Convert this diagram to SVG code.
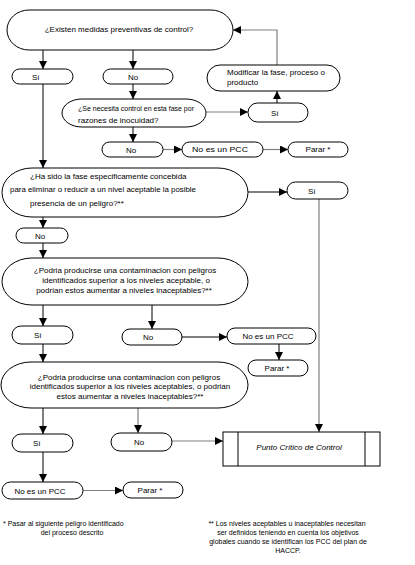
<svg xmlns="http://www.w3.org/2000/svg" width="415" height="565" viewBox="0 0 415 565">
<style>
.b{fill:#fff;stroke:#000;stroke-width:1}
.t{font-family:"Liberation Sans",Arial,sans-serif;font-size:8px;fill:#000}
.m{text-anchor:middle}
.f{font-family:"Liberation Sans",Arial,sans-serif;font-size:7px;fill:#000}
.c{fill:none;stroke:#000;stroke-width:1}
.g{fill:none;stroke:#808080;stroke-width:1.2}
</style>
<defs>
<marker id="a" markerUnits="userSpaceOnUse" markerWidth="9" markerHeight="9" refX="8" refY="4" orient="auto">
<path d="M0,0 L8,4 L0,8 z" fill="#000"/>
</marker>
</defs>
<rect width="415" height="565" fill="#fff"/>
<g id="connectors">
<path class="c" d="M43,49 V69" marker-end="url(#a)"/>
<path class="c" d="M133,49 V69" marker-end="url(#a)"/>
<path class="c" d="M133,84 V99" marker-end="url(#a)"/>
<path class="c" d="M133,127 V142" marker-end="url(#a)"/>
<path class="g" d="M163,149.5 H182" marker-end="url(#a)"/>
<path class="g" d="M263,149.5 H288" marker-end="url(#a)"/>
<path class="g" d="M206,112 H248" marker-end="url(#a)"/>
<path class="c" d="M277,103 V91" marker-end="url(#a)"/>
<path class="g" d="M277,65 V30 H233" marker-end="url(#a)"/>
<path class="c" d="M43,84 V168" marker-end="url(#a)"/>
<path class="c" d="M248,192 H287" marker-end="url(#a)"/>
<path class="g" d="M319,199 V432" marker-end="url(#a)"/>
<path class="c" d="M43,217 V228" marker-end="url(#a)"/>
<path class="c" d="M43,243 V258" marker-end="url(#a)"/>
<path class="c" d="M43,305 V326" marker-end="url(#a)"/>
<path class="c" d="M152,305 V329" marker-end="url(#a)"/>
<path class="c" d="M182,337 H227" marker-end="url(#a)"/>
<path class="c" d="M279,344 V360" marker-end="url(#a)"/>
<path class="c" d="M43,344 V362" marker-end="url(#a)"/>
<path class="c" d="M43,408 V434" marker-end="url(#a)"/>
<path class="g" d="M138,408 V433" marker-end="url(#a)"/>
<path class="g" d="M172,441 H223" marker-end="url(#a)"/>
<path class="c" d="M43,452 V482" marker-end="url(#a)"/>
<path class="g" d="M83,490.5 H123" marker-end="url(#a)"/>
</g>
<g id="q1">
<rect class="b" x="7" y="10" width="226" height="40" rx="22" ry="20"/>
<text class="t m" x="119" y="32">¿Existen medidas preventivas de control?</text>
</g>
<g id="si1">
<rect class="b" x="12" y="69" width="61" height="15" rx="7.5"/>
<text class="t" x="32" y="79.5">Sí</text>
</g>
<g id="no1">
<rect class="b" x="103" y="69" width="70" height="15" rx="7.5"/>
<text class="t m" x="133" y="79.5">No</text>
</g>
<g id="modificar">
<rect class="b" x="207" y="65" width="133" height="26" rx="13"/>
<text class="t" x="227" y="74.5">Modificar la fase, proceso o</text>
<text class="t" x="227" y="84.5">producto</text>
</g>
<g id="q2">
<rect class="b" x="62" y="99" width="144" height="28" rx="20" ry="14"/>
<text class="t" x="78" y="111" textLength="116" lengthAdjust="spacingAndGlyphs">¿Se necesita control en esta fase por</text>
<text class="t" x="78" y="123">razones de inocuidad?</text>
</g>
<g id="si2">
<rect class="b" x="248" y="103" width="60" height="19" rx="9.5"/>
<text class="t" x="271" y="115.5">Sí</text>
</g>
<g id="no2">
<rect class="b" x="102" y="142" width="61" height="15" rx="7.5"/>
<text class="t m" x="131" y="152.5">No</text>
</g>
<g id="nopcc1">
<rect class="b" x="182" y="142" width="81" height="15" rx="7.5"/>
<text class="t m" x="220" y="152" textLength="56" lengthAdjust="spacingAndGlyphs">No es un PCC</text>
</g>
<g id="parar1">
<rect class="b" x="288" y="142" width="60" height="15" rx="7.5"/>
<text class="t m" x="318" y="152">Parar *</text>
</g>
<g id="q3">
<rect class="b" x="2" y="168" width="246" height="49" rx="30" ry="24.5"/>
<text class="t" x="30" y="179">¿Ha sido la fase especificamente concebida</text>
<text class="t" x="10" y="192" textLength="186" lengthAdjust="spacingAndGlyphs">para eliminar o reducir a un nivel aceptable la posible</text>
<text class="t" x="30" y="206">presencia de un peligro?**</text>
</g>
<g id="si3">
<rect class="b" x="287" y="182" width="61" height="17" rx="8.5"/>
<text class="t" x="308" y="193.5">Sí</text>
</g>
<g id="no3">
<rect class="b" x="16" y="228" width="52" height="15" rx="7.5"/>
<text class="t m" x="40" y="238.5">No</text>
</g>
<g id="q4">
<rect class="b" x="2" y="258" width="246" height="47" rx="30" ry="23.5"/>
<text class="t m" x="125" y="273">¿Podria producirse una contaminacion con peligros</text>
<text class="t m" x="126" y="283">identificados superior a los niveles aceptable, o</text>
<text class="t m" x="124" y="293">podrian estos aumentar a niveles inaceptables?**</text>
</g>
<g id="si4">
<rect class="b" x="12" y="326" width="61" height="18" rx="9"/>
<text class="t" x="34" y="338">Sí</text>
</g>
<g id="no4">
<rect class="b" x="122" y="329" width="60" height="16" rx="8"/>
<text class="t m" x="148" y="340">No</text>
</g>
<g id="nopcc2">
<rect class="b" x="227" y="328" width="89" height="16" rx="8"/>
<text class="t m" x="268" y="339">No es un PCC</text>
</g>
<g id="parar2">
<rect class="b" x="248" y="360" width="60" height="16" rx="8"/>
<text class="t m" x="277" y="370.5">Parar *</text>
</g>
<g id="q5">
<rect class="b" x="1" y="362" width="247" height="46" rx="30" ry="23"/>
<text class="t m" x="129" y="379.5">¿Podria producirse una contaminacion con peligros</text>
<text class="t m" x="130" y="389">identificados superior a los niveles aceptables, o podrian</text>
<text class="t m" x="130" y="399">estos aumentar a niveles inaceptables?**</text>
</g>
<g id="si5">
<rect class="b" x="12" y="434" width="61" height="18" rx="9"/>
<text class="t" x="33" y="446">Sí</text>
</g>
<g id="no5">
<rect class="b" x="111" y="433" width="61" height="18" rx="9"/>
<text class="t m" x="139" y="444.5">No</text>
</g>
<g id="pcc">
<rect class="b" x="223" y="432" width="157" height="34"/>
<line class="c" x1="238" y1="432" x2="238" y2="466"/>
<line class="c" x1="365" y1="432" x2="365" y2="466"/>
<text class="t m" x="299" y="450" font-style="italic">Punto Crítico de Control</text>
</g>
<g id="nopcc3">
<rect class="b" x="2" y="482" width="81" height="17" rx="8.5"/>
<text class="t m" x="40" y="493.5">No es un PCC</text>
</g>
<g id="parar3">
<rect class="b" x="123" y="482" width="60" height="16" rx="8"/>
<text class="t m" x="150" y="493">Parar *</text>
</g>
<g id="notes">
<text class="f" x="3" y="526">*  Pasar al siguiente peligro identificado</text>
<text class="f m" x="72" y="535">del proceso descrito</text>
<text class="f m" x="287" y="526">**  Los niveles aceptables u inaceptables necesitan</text>
<text class="f m" x="288" y="535">ser definidos teniendo en cuenta los objetivos</text>
<text class="f m" x="288" y="544">globales cuando se identifican los PCC del plan de</text>
<text class="f m" x="288" y="553">HACCP.</text>
</g>
</svg>
